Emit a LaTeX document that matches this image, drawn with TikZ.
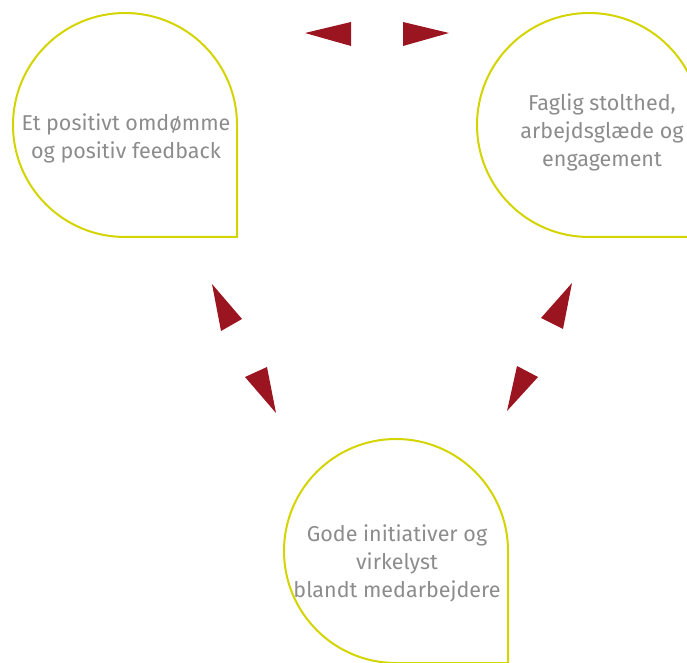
\documentclass[tikz,border=0pt]{standalone}
\usepackage{fontspec}
\setmainfont{Fira Sans}
\definecolor{lime}{HTML}{D3D400}
\definecolor{darkred}{HTML}{9B1520}
\definecolor{txt}{HTML}{8C8C8C}
\begin{document}
\begin{tikzpicture}[x=1pt,y=1pt,
  drop/.style={draw=lime, line width=2pt},
  tri/.style={fill=darkred},
  lbl/.style={text=txt, font=\fontsize{21.5}{28}\selectfont, align=center}]
\useasboundingbox (0,0) rectangle (687,662);
\clip (0,0) rectangle (687,662);
% teardrop shapes
\draw[drop] (237,537) -- (237,425) -- (125,425) arc[start angle=270,end angle=0,radius=112] -- cycle;
\draw[drop] (701,537) -- (701,425) -- (589,425) arc[start angle=270,end angle=0,radius=112] -- cycle;
\draw[drop] (508,111) -- (508,-1) -- (396,-1) arc[start angle=270,end angle=0,radius=112] -- cycle;
% labels
\node[lbl] (omdomme) at (126,524) {Et positivt omdømme\\og positiv feedback};
\node[lbl] (stolthed) at (602,530) {Faglig stolthed,\\arbejdsglæde og\\engagement};
\node[lbl] (initiativ) at (397,99) {Gode initiativer og\\virkelyst\\blandt medarbejdere};
% arrowheads
\fill[tri] (305,629) -- (351,640) -- (351,616) -- cycle;
\fill[tri] (449,629) -- (403,640) -- (403,616) -- cycle;
\fill[tri] (212,378) -- (242,343) -- (221,331) -- cycle;
\fill[tri] (276,249) -- (245,285) -- (267,295) -- cycle;
\fill[tri] (572,379) -- (541,344) -- (563,333) -- cycle;
\fill[tri] (507,251) -- (517,296) -- (538,285) -- cycle;
\end{tikzpicture}
\end{document}
